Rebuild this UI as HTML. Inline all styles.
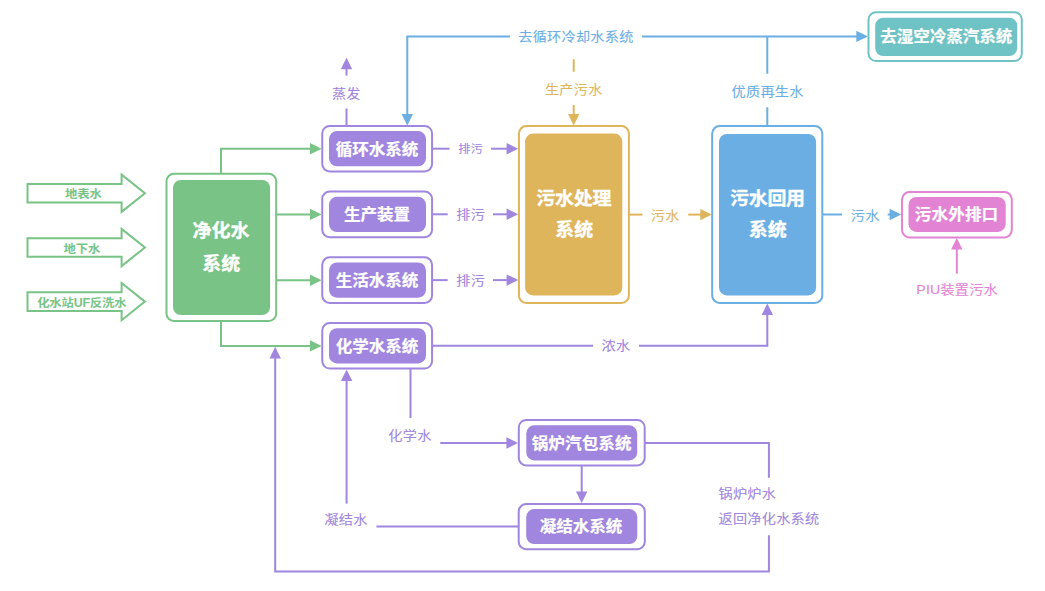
<!DOCTYPE html>
<html lang="zh-CN">
<head>
<meta charset="utf-8">
<title>水系统流程图</title>
<style>
html,body{margin:0;padding:0;background:#fff;}
body{width:1045px;height:591px;overflow:hidden;}
svg{display:block;font-family:'Liberation Sans', 'Noto Sans CJK SC', sans-serif;}
</style>
</head>
<body>
<svg width="1045" height="591" viewBox="0 0 1045 591">
<rect width="1045" height="591" fill="#fff"/>
<polygon points="27.50,183.90 121.60,183.90 121.60,174.60 144.90,193.20 121.60,211.80 121.60,202.50 27.50,202.50" fill="#fff" stroke="#78c385" stroke-width="2.0" stroke-linejoin="miter"/>
<text transform="translate(83.45 194.00) scale(1 0.96)" font-size="12.40" letter-spacing="-0.1" fill="#78c385" font-weight="700" text-anchor="middle" dominant-baseline="central">地表水</text>
<polygon points="27.50,238.20 121.60,238.20 121.60,228.90 144.90,247.50 121.60,266.10 121.60,256.80 27.50,256.80" fill="#fff" stroke="#78c385" stroke-width="2.0" stroke-linejoin="miter"/>
<text transform="translate(81.95 249.20) scale(1 0.96)" font-size="12.40" letter-spacing="-0.1" fill="#78c385" font-weight="700" text-anchor="middle" dominant-baseline="central">地下水</text>
<polygon points="27.50,292.30 121.60,292.30 121.60,283.00 144.90,301.60 121.60,320.20 121.60,310.90 27.50,310.90" fill="#fff" stroke="#78c385" stroke-width="2.0" stroke-linejoin="miter"/>
<text transform="translate(81.80 303.10) scale(1 0.96)" font-size="12.40" letter-spacing="-0.2" fill="#78c385" font-weight="700" text-anchor="middle" dominant-baseline="central">化水站UF反洗水</text>
<path d="M221.00 174.00 L221.00 148.70 L312.00 148.70" fill="none" stroke="#78c385" stroke-width="2.0"/>
<polygon points="321.60,148.70 310.00,143.00 310.00,154.40" fill="#78c385"/>
<path d="M277.00 214.40 L312.00 214.40" fill="none" stroke="#78c385" stroke-width="2.0"/>
<polygon points="321.60,214.40 310.00,208.70 310.00,220.10" fill="#78c385"/>
<path d="M277.00 280.20 L312.00 280.20" fill="none" stroke="#78c385" stroke-width="2.0"/>
<polygon points="321.60,280.20 310.00,274.50 310.00,285.90" fill="#78c385"/>
<path d="M221.00 321.00 L221.00 345.90 L312.00 345.90" fill="none" stroke="#78c385" stroke-width="2.0"/>
<polygon points="321.60,345.90 310.00,340.20 310.00,351.60" fill="#78c385"/>
<path d="M346.50 126.00 L346.50 108.50" fill="none" stroke="#a086de" stroke-width="2.0"/>
<path d="M346.50 75.60 L346.50 68.00" fill="none" stroke="#a086de" stroke-width="2.0"/>
<polygon points="346.50,57.70 340.80,69.30 352.20,69.30" fill="#a086de"/>
<text transform="translate(346.33 94.15) scale(1 0.885)" font-size="14.16" letter-spacing="0.27" fill="#a086de" stroke="#a086de" stroke-width="0.1" text-anchor="middle" dominant-baseline="central">蒸发</text>
<path d="M510.00 36.40 L407.30 36.40 L407.30 116.00" fill="none" stroke="#6aaee3" stroke-width="2.0"/>
<polygon points="407.30,125.60 401.60,114.00 413.00,114.00" fill="#6aaee3"/>
<path d="M642.00 36.40 L858.00 36.40" fill="none" stroke="#6aaee3" stroke-width="2.0"/>
<polygon points="867.90,36.40 856.30,30.70 856.30,42.10" fill="#6aaee3"/>
<text transform="translate(575.93 36.35) scale(1 0.885)" font-size="14.16" letter-spacing="0.27" fill="#6aaee3" stroke="#6aaee3" stroke-width="0.1" text-anchor="middle" dominant-baseline="central">去循环冷却水系统</text>
<path d="M767.30 126.00 L767.30 107.30" fill="none" stroke="#6aaee3" stroke-width="2.0"/>
<path d="M767.30 73.70 L767.30 36.40" fill="none" stroke="#6aaee3" stroke-width="2.0"/>
<text transform="translate(767.63 91.35) scale(1 0.885)" font-size="14.16" letter-spacing="0.27" fill="#6aaee3" stroke="#6aaee3" stroke-width="0.1" text-anchor="middle" dominant-baseline="central">优质再生水</text>
<path d="M573.70 59.20 L573.70 71.80" fill="none" stroke="#deb55b" stroke-width="2.0"/>
<path d="M573.70 105.00 L573.70 116.00" fill="none" stroke="#deb55b" stroke-width="2.0"/>
<polygon points="573.70,125.60 568.00,114.00 579.40,114.00" fill="#deb55b"/>
<text transform="translate(573.74 90.05) scale(1 0.885)" font-size="14.16" letter-spacing="0.27" fill="#deb55b" stroke="#deb55b" stroke-width="0.1" text-anchor="middle" dominant-baseline="central">生产污水</text>
<path d="M629.00 214.60 L642.50 214.60" fill="none" stroke="#deb55b" stroke-width="2.0"/>
<path d="M688.20 214.60 L702.00 214.60" fill="none" stroke="#deb55b" stroke-width="2.0"/>
<polygon points="711.90,214.60 700.30,208.90 700.30,220.30" fill="#deb55b"/>
<text transform="translate(665.24 215.45) scale(1 0.885)" font-size="14.16" letter-spacing="0.27" fill="#deb55b" stroke="#deb55b" stroke-width="0.1" text-anchor="middle" dominant-baseline="central">污水</text>
<path d="M433.00 148.70 L449.50 148.70" fill="none" stroke="#a086de" stroke-width="2.0"/>
<path d="M491.00 148.70 L508.00 148.70" fill="none" stroke="#a086de" stroke-width="2.0"/>
<polygon points="518.20,148.70 506.60,143.00 506.60,154.40" fill="#a086de"/>
<text transform="translate(470.63 149.45) scale(1 0.885)" font-size="12.22" letter-spacing="0.27" fill="#a086de" stroke="#a086de" stroke-width="0.1" text-anchor="middle" dominant-baseline="central">排污</text>
<path d="M433.00 214.30 L447.70 214.30" fill="none" stroke="#a086de" stroke-width="2.0"/>
<path d="M493.00 214.30 L508.00 214.30" fill="none" stroke="#a086de" stroke-width="2.0"/>
<polygon points="518.20,214.30 506.60,208.60 506.60,220.00" fill="#a086de"/>
<text transform="translate(470.63 215.05) scale(1 0.885)" font-size="14.16" letter-spacing="0.27" fill="#a086de" stroke="#a086de" stroke-width="0.1" text-anchor="middle" dominant-baseline="central">排污</text>
<path d="M433.00 280.10 L447.70 280.10" fill="none" stroke="#a086de" stroke-width="2.0"/>
<path d="M493.00 280.10 L508.00 280.10" fill="none" stroke="#a086de" stroke-width="2.0"/>
<polygon points="518.20,280.10 506.60,274.40 506.60,285.80" fill="#a086de"/>
<text transform="translate(470.63 280.85) scale(1 0.885)" font-size="14.16" letter-spacing="0.27" fill="#a086de" stroke="#a086de" stroke-width="0.1" text-anchor="middle" dominant-baseline="central">排污</text>
<path d="M433.00 345.80 L593.10 345.80" fill="none" stroke="#a086de" stroke-width="2.0"/>
<path d="M639.00 345.80 L767.30 345.80 L767.30 314.00" fill="none" stroke="#a086de" stroke-width="2.0"/>
<polygon points="767.30,303.40 761.60,315.00 773.00,315.00" fill="#a086de"/>
<text transform="translate(615.93 346.25) scale(1 0.885)" font-size="14.16" letter-spacing="0.27" fill="#a086de" stroke="#a086de" stroke-width="0.1" text-anchor="middle" dominant-baseline="central">浓水</text>
<path d="M823.00 214.50 L842.00 214.50" fill="none" stroke="#6aaee3" stroke-width="2.0"/>
<path d="M887.70 214.50 L892.00 214.50" fill="none" stroke="#6aaee3" stroke-width="2.0"/>
<polygon points="901.20,214.50 889.60,208.80 889.60,220.20" fill="#6aaee3"/>
<text transform="translate(865.24 215.45) scale(1 0.885)" font-size="14.16" letter-spacing="0.27" fill="#6aaee3" stroke="#6aaee3" stroke-width="0.1" text-anchor="middle" dominant-baseline="central">污水</text>
<path d="M956.80 273.60 L956.80 248.00" fill="none" stroke="#e283d4" stroke-width="2.0"/>
<polygon points="956.80,238.00 951.10,249.60 962.50,249.60" fill="#e283d4"/>
<text transform="translate(957.10 290.15) scale(1 0.885)" font-size="14.16" letter-spacing="0.2" fill="#e283d4" stroke="#e283d4" stroke-width="0.1" text-anchor="middle" dominant-baseline="central">PIU装置污水</text>
<path d="M410.50 369.00 L410.50 418.00" fill="none" stroke="#a086de" stroke-width="2.0"/>
<text transform="translate(409.94 435.35) scale(1 0.885)" font-size="14.16" letter-spacing="0.27" fill="#a086de" stroke="#a086de" stroke-width="0.1" text-anchor="middle" dominant-baseline="central">化学水</text>
<path d="M440.30 443.00 L508.00 443.00" fill="none" stroke="#a086de" stroke-width="2.0"/>
<polygon points="518.00,443.00 506.40,437.30 506.40,448.70" fill="#a086de"/>
<path d="M645.00 443.00 L768.90 443.00 L768.90 477.80" fill="none" stroke="#a086de" stroke-width="2.0"/>
<text transform="translate(718.50 494.05) scale(1 0.885)" font-size="14.16" letter-spacing="0.27" fill="#a086de" stroke="#a086de" stroke-width="0.1" text-anchor="start" dominant-baseline="central">锅炉炉水</text>
<text transform="translate(718.50 519.25) scale(1 0.885)" font-size="14.16" letter-spacing="0.27" fill="#a086de" stroke="#a086de" stroke-width="0.1" text-anchor="start" dominant-baseline="central">返回净化水系统</text>
<path d="M768.90 535.20 L768.90 571.60 L275.20 571.60 L275.20 357.00" fill="none" stroke="#a086de" stroke-width="2.0"/>
<polygon points="275.20,346.80 269.50,358.40 280.90,358.40" fill="#a086de"/>
<path d="M581.70 466.00 L581.70 493.00" fill="none" stroke="#a086de" stroke-width="2.0"/>
<polygon points="581.70,503.00 576.00,491.40 587.40,491.40" fill="#a086de"/>
<path d="M519.00 526.40 L376.40 526.40" fill="none" stroke="#a086de" stroke-width="2.0"/>
<text transform="translate(346.03 520.15) scale(1 0.885)" font-size="14.16" letter-spacing="0.27" fill="#a086de" stroke="#a086de" stroke-width="0.1" text-anchor="middle" dominant-baseline="central">凝结水</text>
<path d="M346.60 503.60 L346.60 380.00" fill="none" stroke="#a086de" stroke-width="2.0"/>
<polygon points="346.60,369.40 340.90,381.00 352.30,381.00" fill="#a086de"/>
<rect x="166.50" y="173.75" width="109.70" height="147.25" rx="7.5" fill="#fff" stroke="#78c385" stroke-width="2.0"/>
<rect x="173.00" y="180.00" width="97.10" height="135.10" rx="8" fill="#78c385"/>
<text transform="translate(221.00 230.90) scale(1 0.97)" font-size="19.00" letter-spacing="0" fill="#fff" font-weight="700" stroke="#fff" stroke-width="0.35" text-anchor="middle" dominant-baseline="central">净化水</text>
<text transform="translate(221.20 263.10) scale(1 0.97)" font-size="19.00" letter-spacing="0" fill="#fff" font-weight="700" stroke="#fff" stroke-width="0.35" text-anchor="middle" dominant-baseline="central">系统</text>
<rect x="322.25" y="125.90" width="109.82" height="45.60" rx="7.5" fill="#fff" stroke="#a086de" stroke-width="2.0"/>
<rect x="329.00" y="131.10" width="97.00" height="35.20" rx="8" fill="#a086de"/>
<text transform="translate(376.95 148.90) scale(1 0.96)" font-size="16.60" letter-spacing="-0.1" fill="#fff" font-weight="700" stroke="#fff" stroke-width="0.2" text-anchor="middle" dominant-baseline="central">循环水系统</text>
<rect x="322.25" y="191.60" width="109.82" height="45.60" rx="7.5" fill="#fff" stroke="#a086de" stroke-width="2.0"/>
<rect x="329.00" y="196.80" width="97.00" height="35.20" rx="8" fill="#a086de"/>
<text transform="translate(376.95 214.10) scale(1 0.96)" font-size="16.60" letter-spacing="-0.1" fill="#fff" font-weight="700" stroke="#fff" stroke-width="0.2" text-anchor="middle" dominant-baseline="central">生产装置</text>
<rect x="322.25" y="257.30" width="109.82" height="45.60" rx="7.5" fill="#fff" stroke="#a086de" stroke-width="2.0"/>
<rect x="329.00" y="262.50" width="97.00" height="35.20" rx="8" fill="#a086de"/>
<text transform="translate(376.95 279.90) scale(1 0.96)" font-size="16.60" letter-spacing="-0.1" fill="#fff" font-weight="700" stroke="#fff" stroke-width="0.2" text-anchor="middle" dominant-baseline="central">生活水系统</text>
<rect x="322.25" y="323.00" width="109.82" height="45.60" rx="7.5" fill="#fff" stroke="#a086de" stroke-width="2.0"/>
<rect x="329.00" y="328.20" width="97.00" height="35.20" rx="8" fill="#a086de"/>
<text transform="translate(376.95 345.90) scale(1 0.96)" font-size="16.60" letter-spacing="-0.1" fill="#fff" font-weight="700" stroke="#fff" stroke-width="0.2" text-anchor="middle" dominant-baseline="central">化学水系统</text>
<rect x="518.95" y="126.07" width="109.95" height="176.83" rx="7.5" fill="#fff" stroke="#deb55b" stroke-width="2.0"/>
<rect x="525.10" y="133.60" width="97.20" height="161.80" rx="8" fill="#deb55b"/>
<text transform="translate(573.77 199.00) scale(1 0.97)" font-size="19.00" letter-spacing="-0.25" fill="#fff" font-weight="700" stroke="#fff" stroke-width="0.35" text-anchor="middle" dominant-baseline="central">污水处理</text>
<text transform="translate(574.20 229.60) scale(1 0.97)" font-size="19.00" letter-spacing="0" fill="#fff" font-weight="700" stroke="#fff" stroke-width="0.35" text-anchor="middle" dominant-baseline="central">系统</text>
<rect x="712.20" y="126.10" width="110.10" height="176.80" rx="7.5" fill="#fff" stroke="#6aaee3" stroke-width="2.0"/>
<rect x="719.00" y="133.90" width="97.10" height="161.50" rx="8" fill="#6aaee3"/>
<text transform="translate(767.38 198.80) scale(1 0.97)" font-size="19.00" letter-spacing="-0.25" fill="#fff" font-weight="700" stroke="#fff" stroke-width="0.35" text-anchor="middle" dominant-baseline="central">污水回用</text>
<text transform="translate(767.80 229.50) scale(1 0.97)" font-size="19.00" letter-spacing="0" fill="#fff" font-weight="700" stroke="#fff" stroke-width="0.35" text-anchor="middle" dominant-baseline="central">系统</text>
<rect x="868.50" y="12.20" width="153.30" height="48.90" rx="7.5" fill="#fff" stroke="#6fc3c4" stroke-width="2.0"/>
<rect x="875.20" y="17.70" width="142.00" height="38.30" rx="8" fill="#6fc3c4"/>
<text transform="translate(946.15 36.60) scale(1 0.96)" font-size="16.60" letter-spacing="-0.1" fill="#fff" font-weight="700" stroke="#fff" stroke-width="0.2" text-anchor="middle" dominant-baseline="central">去湿空冷蒸汽系统</text>
<rect x="902.05" y="192.10" width="109.75" height="45.35" rx="7.5" fill="#fff" stroke="#e283d4" stroke-width="2.0"/>
<rect x="908.50" y="197.00" width="97.20" height="34.90" rx="8" fill="#e283d4"/>
<text transform="translate(956.55 214.00) scale(1 0.96)" font-size="16.60" letter-spacing="0.1" fill="#fff" font-weight="700" stroke="#fff" stroke-width="0.2" text-anchor="middle" dominant-baseline="central">污水外排口</text>
<rect x="518.80" y="419.90" width="125.90" height="45.50" rx="7.5" fill="#fff" stroke="#a086de" stroke-width="2.0"/>
<rect x="526.30" y="425.30" width="110.90" height="35.10" rx="8" fill="#a086de"/>
<text transform="translate(581.62 443.10) scale(1 0.96)" font-size="16.60" letter-spacing="0.05" fill="#fff" font-weight="700" stroke="#fff" stroke-width="0.2" text-anchor="middle" dominant-baseline="central">锅炉汽包系统</text>
<rect x="518.70" y="504.10" width="126.10" height="45.10" rx="7.5" fill="#fff" stroke="#a086de" stroke-width="2.0"/>
<rect x="526.20" y="509.10" width="111.10" height="35.00" rx="8" fill="#a086de"/>
<text transform="translate(580.95 526.20) scale(1 0.96)" font-size="16.60" letter-spacing="-0.1" fill="#fff" font-weight="700" stroke="#fff" stroke-width="0.2" text-anchor="middle" dominant-baseline="central">凝结水系统</text>
</svg>
</body>
</html>
